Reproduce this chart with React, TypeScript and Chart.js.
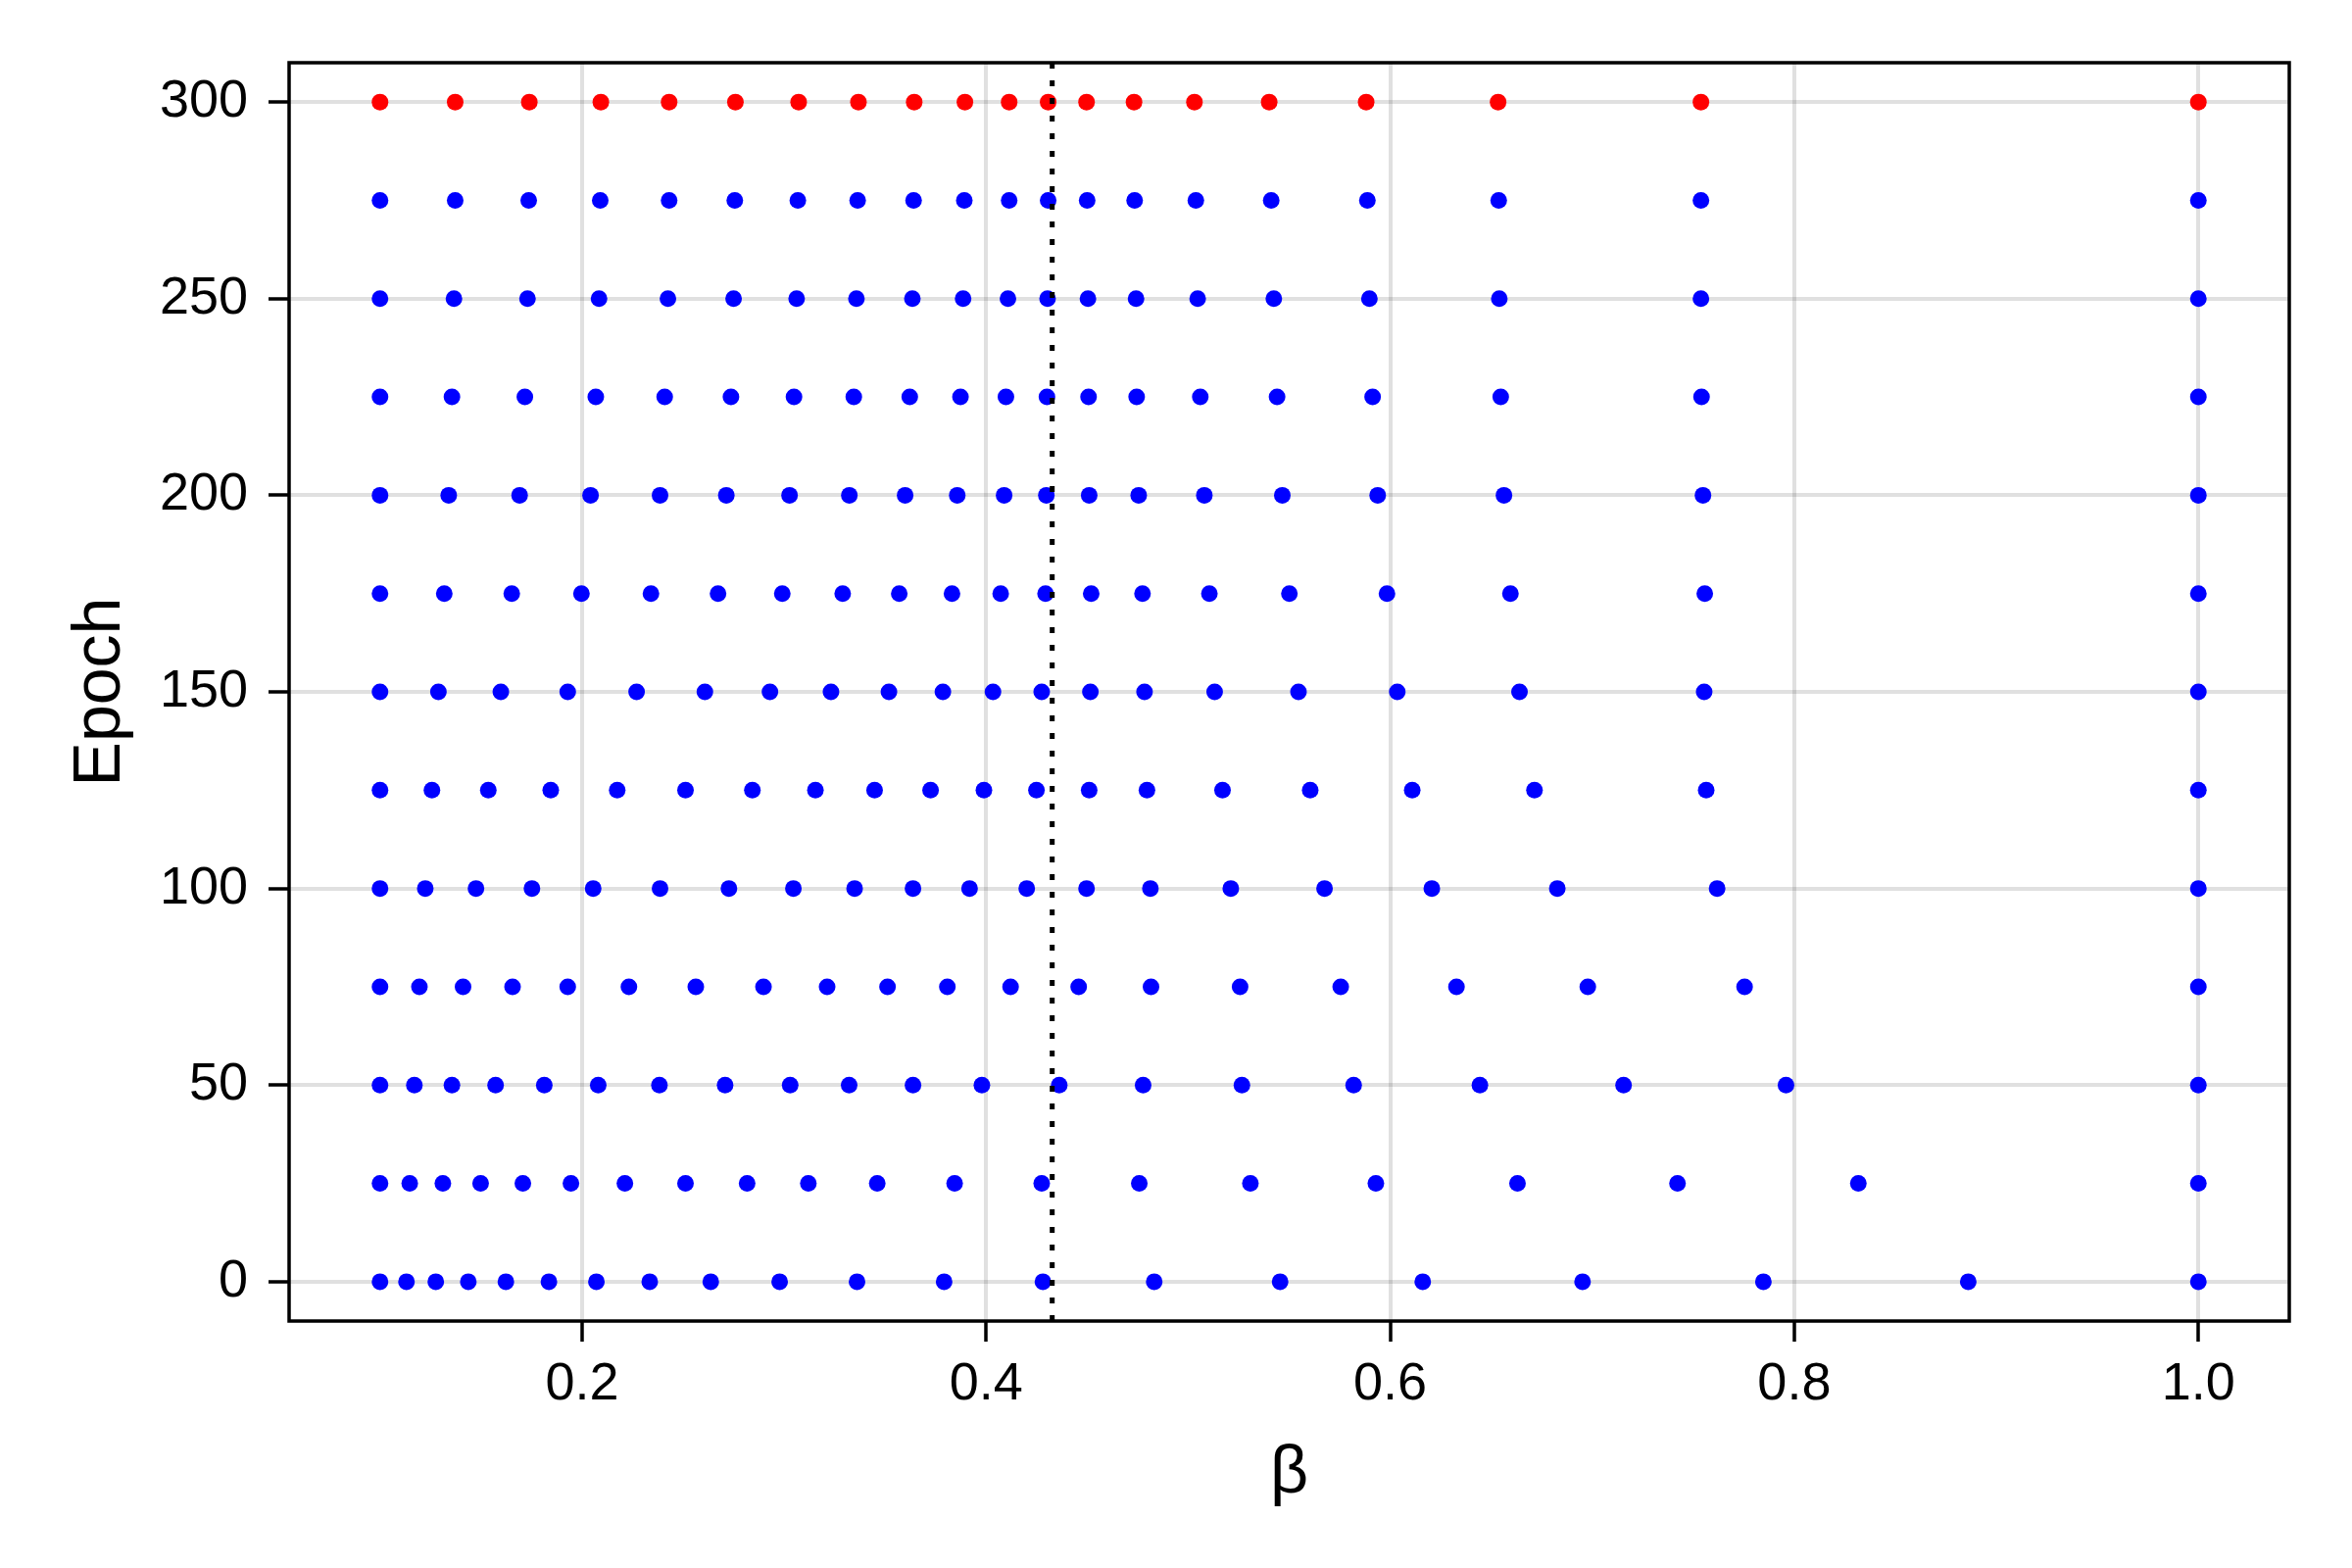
import React, { useEffect, useRef } from "react";
import { Chart, registerables } from "chart.js";

Chart.register(...registerables);

// ---- data ----
const EPOCHS = [0, 25, 50, 75, 100, 125, 150, 175, 200, 225, 250, 275];
const FINAL_EPOCH = 300;

const BETA_E0 = [0.1, 0.1131, 0.1276, 0.1437, 0.1623, 0.1836, 0.2071, 0.2335, 0.2637, 0.2978, 0.3361, 0.3792, 0.4281, 0.4832, 0.5455, 0.6161, 0.6952, 0.7847, 0.8861, 1.0];
const BETA_E25 = [0.1, 0.1147, 0.1311, 0.1498, 0.1707, 0.1945, 0.2212, 0.2512, 0.2817, 0.312, 0.3461, 0.3844, 0.4275, 0.4758, 0.5308, 0.5929, 0.663, 0.7422, 0.8317, 1.0];
const BETA_E50 = [0.1, 0.117, 0.1356, 0.1572, 0.1813, 0.208, 0.2383, 0.2708, 0.303, 0.3322, 0.3638, 0.3979, 0.4362, 0.4777, 0.5266, 0.5819, 0.6444, 0.7155, 0.7959, 1.0];
const BETA_E75 = [0.1, 0.1195, 0.1411, 0.1656, 0.1929, 0.2232, 0.2563, 0.2898, 0.3213, 0.3512, 0.3808, 0.4121, 0.4458, 0.4816, 0.5257, 0.5755, 0.6328, 0.6978, 0.7754, 1.0];
const BETA_E100 = [0.1, 0.1224, 0.1475, 0.1752, 0.2055, 0.2386, 0.2727, 0.3046, 0.3349, 0.3638, 0.3918, 0.4201, 0.4497, 0.4813, 0.5211, 0.5675, 0.6206, 0.6827, 0.7618, 1.0];
const BETA_E125 = [0.1, 0.1257, 0.1536, 0.1845, 0.2174, 0.2512, 0.2843, 0.3155, 0.3448, 0.3725, 0.3989, 0.4249, 0.451, 0.4796, 0.517, 0.5604, 0.6109, 0.6714, 0.7564, 1.0];
const BETA_E150 = [0.1, 0.1289, 0.1598, 0.1929, 0.227, 0.2608, 0.293, 0.3232, 0.3519, 0.3786, 0.4034, 0.4275, 0.4516, 0.4784, 0.5131, 0.5546, 0.6035, 0.664, 0.7554, 1.0];
const BETA_E175 = [0.1, 0.1318, 0.1652, 0.1997, 0.2341, 0.2673, 0.2991, 0.329, 0.357, 0.3831, 0.4072, 0.4294, 0.452, 0.4774, 0.5105, 0.5501, 0.5984, 0.6595, 0.7557, 1.0];
const BETA_E200 = [0.1, 0.134, 0.1691, 0.2042, 0.2386, 0.2714, 0.3027, 0.3323, 0.3599, 0.3857, 0.4089, 0.4298, 0.451, 0.4755, 0.508, 0.5466, 0.5938, 0.6563, 0.7548, 1.0];
const BETA_E225 = [0.1, 0.1356, 0.1717, 0.2068, 0.2409, 0.2737, 0.3049, 0.3345, 0.3622, 0.3873, 0.4098, 0.4301, 0.4507, 0.4745, 0.506, 0.544, 0.5913, 0.6547, 0.7541, 1.0];
const BETA_E250 = [0.1, 0.1366, 0.173, 0.2084, 0.2425, 0.275, 0.3062, 0.3358, 0.3635, 0.3886, 0.4108, 0.4304, 0.4504, 0.4742, 0.5047, 0.5424, 0.5897, 0.654, 0.7538, 1.0];
const BETA_E275 = [0.1, 0.1372, 0.1736, 0.209, 0.2431, 0.2756, 0.3068, 0.3364, 0.3641, 0.3892, 0.4114, 0.4307, 0.45, 0.4735, 0.5038, 0.5411, 0.5887, 0.6537, 0.7538, 1.0];
const BETA_E300 = [0.1, 0.1372, 0.1739, 0.2093, 0.2431, 0.2759, 0.3072, 0.3368, 0.3644, 0.3895, 0.4114, 0.4307, 0.4497, 0.4732, 0.5031, 0.5401, 0.5881, 0.6534, 0.7538, 1.0];

const BETA_ROWS = [BETA_E0, BETA_E25, BETA_E50, BETA_E75, BETA_E100, BETA_E125, BETA_E150, BETA_E175, BETA_E200, BETA_E225, BETA_E250, BETA_E275];

const BETA_STAR = 0.4327;

const X_MIN = 0.055;
const X_MAX = 1.045;
const Y_MIN = -10;
const Y_MAX = 310;

const X_TICKS = [0.2, 0.4, 0.6, 0.8, 1.0];
const X_TICK_LABELS = ["0.2", "0.4", "0.6", "0.8", "1.0"];
const Y_TICKS = [0, 50, 100, 150, 200, 250, 300];
const Y_TICK_LABELS = ["0", "50", "100", "150", "200", "250", "300"];

const X_TITLE = "β";
const Y_TITLE = "Epoch";

const FONT = "'Liberation Sans', Arial, Helvetica, sans-serif";
const GRID_COLOR = "rgba(0,0,0,0.12)";

const framePlugin = {
  id: "frameBox",
  afterDraw(chart: any) {
    const { ctx, chartArea: a } = chart;
    ctx.save();
    ctx.strokeStyle = "#000";
    ctx.lineWidth = 3.5;
    ctx.strokeRect(a.left, a.top, a.right - a.left, a.bottom - a.top);
    ctx.restore();
  },
};

export default function App() {
  const canvasRef = useRef<HTMLCanvasElement | null>(null);

  useEffect(() => {
    document.body.style.margin = "0";
    const canvas = canvasRef.current;
    if (!canvas) return;

    const bluePoints: { x: number; y: number }[] = [];
    BETA_ROWS.forEach((row, i) => {
      row.forEach((b) => bluePoints.push({ x: b, y: EPOCHS[i] }));
    });
    const redPoints = BETA_E300.map((b) => ({ x: b, y: FINAL_EPOCH }));

    const chart = new Chart(canvas, {
      type: "scatter",
      data: {
        datasets: [
          {
            label: "beta*",
            data: [
              { x: BETA_STAR, y: Y_MIN },
              { x: BETA_STAR, y: Y_MAX },
            ],
            showLine: true,
            borderColor: "#000",
            borderWidth: 5,
            borderDash: [6, 12],
            borderCapStyle: "butt",
            pointRadius: 0,
            order: 0,
          } as any,
          {
            label: "final",
            data: redPoints,
            backgroundColor: "#ff0000",
            borderColor: "#ff0000",
            pointRadius: 8.5,
            pointBorderWidth: 0,
            order: 1,
          } as any,
          {
            label: "history",
            data: bluePoints,
            backgroundColor: "#0000ff",
            borderColor: "#0000ff",
            pointRadius: 8.5,
            pointBorderWidth: 0,
            order: 2,
          } as any,
        ],
      },
      options: {
        responsive: false,
        devicePixelRatio: 1,
        animation: false,
        layout: { padding: { left: 0, top: 64, right: 64, bottom: 0 } },
        plugins: {
          legend: { display: false },
          tooltip: { enabled: false },
        },
        scales: {
          x: {
            type: "linear",
            position: "bottom",
            min: X_MIN,
            max: X_MAX,
            bounds: "data",
            afterBuildTicks: (scale: any) => {
              scale.ticks = X_TICKS.map((v) => ({ value: v }));
            },
            afterFit: (scale: any) => {
              scale.height = 252;
            },
            ticks: {
              autoSkip: false,
              maxRotation: 0,
              padding: 12,
              color: "#000",
              font: { family: FONT, size: 54 },
              callback: (v: any) => X_TICK_LABELS[X_TICKS.indexOf(Number(v))],
            },
            grid: {
              color: GRID_COLOR,
              lineWidth: 4,
              tickLength: 21,
              tickColor: "#000",
              tickWidth: 3.5,
            },
            border: { display: false },
            title: {
              display: true,
              text: X_TITLE,
              color: "#000",
              font: { family: FONT, size: 68, lineHeight: 1 },
              padding: { top: 0, bottom: 62 },
            },
          },
          y: {
            type: "linear",
            position: "left",
            min: Y_MIN,
            max: Y_MAX,
            bounds: "data",
            afterBuildTicks: (scale: any) => {
              scale.ticks = Y_TICKS.map((v) => ({ value: v }));
            },
            afterFit: (scale: any) => {
              scale.width = 295;
            },
            ticks: {
              autoSkip: false,
              padding: 21,
              color: "#000",
              font: { family: FONT, size: 54 },
              callback: (v: any) => Y_TICK_LABELS[Y_TICKS.indexOf(Number(v))],
            },
            grid: {
              color: GRID_COLOR,
              lineWidth: 4,
              tickLength: 21,
              tickColor: "#000",
              tickWidth: 3.5,
            },
            border: { display: false },
            title: {
              display: true,
              text: Y_TITLE,
              color: "#000",
              font: { family: FONT, size: 68, lineHeight: 1 },
              padding: { top: 69, bottom: 0 },
            },
          },
        },
      },
      plugins: [framePlugin],
    } as any);

    return () => {
      chart.destroy();
    };
  }, []);

  return (
    <div style={{ position: "absolute", left: 0, top: 0, width: 2400, height: 1600, background: "#fff" }}>
      <canvas ref={canvasRef} width={2400} height={1600} style={{ width: 2400, height: 1600, display: "block" }} />
    </div>
  );
}
